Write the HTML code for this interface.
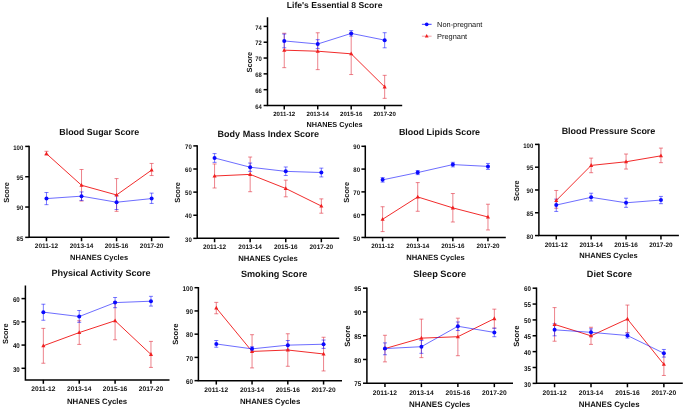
<!DOCTYPE html>
<html><head><meta charset="utf-8"><style>
html,body{margin:0;padding:0;background:#fff;}
svg{display:block;will-change:transform;}
text{font-family:"Liberation Sans",sans-serif;fill:#111;font-weight:bold;text-rendering:geometricPrecision;}
</style></head><body>
<svg width="685" height="411" viewBox="0 0 685 411">
<rect width="685" height="411" fill="#fff"/>
<path d="M267.50 17.25V105.50H402.20" fill="none" stroke="#000" stroke-width="1.5"/>
<path d="M263.60 105.50H267.50" stroke="#000" stroke-width="1.5"/>
<text transform="translate(261.90 108.62) scale(1 1.1)" text-anchor="end" font-size="5.9">64</text>
<path d="M263.60 89.68H267.50" stroke="#000" stroke-width="1.5"/>
<text transform="translate(261.90 92.80) scale(1 1.1)" text-anchor="end" font-size="5.9">66</text>
<path d="M263.60 73.86H267.50" stroke="#000" stroke-width="1.5"/>
<text transform="translate(261.90 76.98) scale(1 1.1)" text-anchor="end" font-size="5.9">68</text>
<path d="M263.60 58.04H267.50" stroke="#000" stroke-width="1.5"/>
<text transform="translate(261.90 61.16) scale(1 1.1)" text-anchor="end" font-size="5.9">70</text>
<path d="M263.60 42.22H267.50" stroke="#000" stroke-width="1.5"/>
<text transform="translate(261.90 45.34) scale(1 1.1)" text-anchor="end" font-size="5.9">72</text>
<path d="M263.60 26.40H267.50" stroke="#000" stroke-width="1.5"/>
<text transform="translate(261.90 29.52) scale(1 1.1)" text-anchor="end" font-size="5.9">74</text>
<path d="M284.25 105.50V109.40" stroke="#000" stroke-width="1.5"/>
<text x="284.25" y="115.90" text-anchor="middle" font-size="6.1">2011-12</text>
<path d="M317.72 105.50V109.40" stroke="#000" stroke-width="1.5"/>
<text x="317.72" y="115.90" text-anchor="middle" font-size="6.1">2013-14</text>
<path d="M351.19 105.50V109.40" stroke="#000" stroke-width="1.5"/>
<text x="351.19" y="115.90" text-anchor="middle" font-size="6.1">2015-16</text>
<path d="M384.66 105.50V109.40" stroke="#000" stroke-width="1.5"/>
<text x="384.66" y="115.90" text-anchor="middle" font-size="6.1">2017-20</text>
<text x="334.60" y="8.10" text-anchor="middle" font-size="8.6">Life&#39;s Essential 8 Score</text>
<text x="334.60" y="126.90" text-anchor="middle" font-size="7.25">NHANES Cycles</text>
<text transform="translate(251.70 62.10) rotate(-90)" text-anchor="middle" font-size="7.45">Score</text>
<path d="M284.25 33.25V67.66M282.25 33.25H286.25M282.25 67.66H286.25" stroke="#e23a48" stroke-width="0.7" fill="none" opacity="0.9"/>
<path d="M317.72 32.78V69.64M315.72 32.78H319.72M315.72 69.64H319.72" stroke="#e23a48" stroke-width="0.7" fill="none" opacity="0.9"/>
<path d="M351.19 33.25V74.54M349.19 33.25H353.19M349.19 74.54H353.19" stroke="#e23a48" stroke-width="0.7" fill="none" opacity="0.9"/>
<path d="M384.66 75.33V98.35M382.66 75.33H386.66M382.66 98.35H386.66" stroke="#e23a48" stroke-width="0.7" fill="none" opacity="0.9"/>
<path d="M284.25 34.04V47.81M282.25 34.04H286.25M282.25 47.81H286.25" stroke="#0a0aff" stroke-width="0.6" fill="none" opacity="0.9"/>
<path d="M317.72 39.66V48.60M315.72 39.66H319.72M315.72 48.60H319.72" stroke="#0a0aff" stroke-width="0.6" fill="none" opacity="0.9"/>
<path d="M351.19 30.64V36.10M349.19 30.64H353.19M349.19 36.10H353.19" stroke="#0a0aff" stroke-width="0.6" fill="none" opacity="0.9"/>
<path d="M384.66 32.70V47.81M382.66 32.70H386.66M382.66 47.81H386.66" stroke="#0a0aff" stroke-width="0.6" fill="none" opacity="0.9"/>
<path d="M284.25 50.18 L317.72 51.21 L351.19 53.82 L384.66 86.88" stroke="#f02020" stroke-width="0.95" fill="none"/>
<path d="M284.25 47.88L286.30 51.68L282.20 51.68Z" fill="#f02020"/>
<path d="M317.72 48.91L319.77 52.71L315.67 52.71Z" fill="#f02020"/>
<path d="M351.19 51.52L353.24 55.32L349.14 55.32Z" fill="#f02020"/>
<path d="M384.66 84.58L386.71 88.38L382.61 88.38Z" fill="#f02020"/>
<path d="M284.25 40.93 L317.72 44.01 L351.19 33.41 L384.66 40.13" stroke="#0a0aff" stroke-width="0.6" fill="none"/>
<circle cx="284.25" cy="40.93" r="2.00" fill="#0a0aff"/>
<circle cx="317.72" cy="44.01" r="2.00" fill="#0a0aff"/>
<circle cx="351.19" cy="33.41" r="2.00" fill="#0a0aff"/>
<circle cx="384.66" cy="40.13" r="2.00" fill="#0a0aff"/>
<path d="M29.10 145.65V237.35H169.50" fill="none" stroke="#000" stroke-width="1.5"/>
<path d="M25.20 237.35H29.10" stroke="#000" stroke-width="1.5"/>
<text transform="translate(23.30 240.51) scale(1 1.1)" text-anchor="end" font-size="6.0">85</text>
<path d="M25.20 207.03H29.10" stroke="#000" stroke-width="1.5"/>
<text transform="translate(23.30 210.20) scale(1 1.1)" text-anchor="end" font-size="6.0">90</text>
<path d="M25.20 176.72H29.10" stroke="#000" stroke-width="1.5"/>
<text transform="translate(23.30 179.88) scale(1 1.1)" text-anchor="end" font-size="6.0">95</text>
<path d="M25.20 146.40H29.10" stroke="#000" stroke-width="1.5"/>
<text transform="translate(23.30 149.56) scale(1 1.1)" text-anchor="end" font-size="6.0">100</text>
<path d="M46.47 237.35V241.25" stroke="#000" stroke-width="1.5"/>
<text x="46.47" y="248.20" text-anchor="middle" font-size="6.45">2011-12</text>
<path d="M81.52 237.35V241.25" stroke="#000" stroke-width="1.5"/>
<text x="81.52" y="248.20" text-anchor="middle" font-size="6.45">2013-14</text>
<path d="M116.57 237.35V241.25" stroke="#000" stroke-width="1.5"/>
<text x="116.57" y="248.20" text-anchor="middle" font-size="6.45">2015-16</text>
<path d="M151.62 237.35V241.25" stroke="#000" stroke-width="1.5"/>
<text x="151.62" y="248.20" text-anchor="middle" font-size="6.45">2017-20</text>
<text x="99.20" y="135.40" text-anchor="middle" font-size="8.9">Blood Sugar Score</text>
<text x="99.10" y="259.90" text-anchor="middle" font-size="7.5">NHANES Cycles</text>
<text transform="translate(9.10 192.40) rotate(-90)" text-anchor="middle" font-size="7.45">Score</text>
<path d="M46.47 151.30V154.94M44.47 151.30H48.47M44.47 154.94H48.47" stroke="#e23a48" stroke-width="0.7" fill="none" opacity="0.9"/>
<path d="M81.52 169.49V201.02M79.52 169.49H83.52M79.52 201.02H83.52" stroke="#e23a48" stroke-width="0.7" fill="none" opacity="0.9"/>
<path d="M116.57 178.59V211.33M114.57 178.59H118.57M114.57 211.33H118.57" stroke="#e23a48" stroke-width="0.7" fill="none" opacity="0.9"/>
<path d="M151.62 163.43V175.55M149.62 163.43H153.62M149.62 175.55H153.62" stroke="#e23a48" stroke-width="0.7" fill="none" opacity="0.9"/>
<path d="M46.47 192.53V204.66M44.47 192.53H48.47M44.47 204.66H48.47" stroke="#0a0aff" stroke-width="0.6" fill="none" opacity="0.9"/>
<path d="M81.52 191.93V200.41M79.52 191.93H83.52M79.52 200.41H83.52" stroke="#0a0aff" stroke-width="0.6" fill="none" opacity="0.9"/>
<path d="M116.57 195.56V209.51M114.57 195.56H118.57M114.57 209.51H118.57" stroke="#0a0aff" stroke-width="0.6" fill="none" opacity="0.9"/>
<path d="M151.62 193.14V203.45M149.62 193.14H153.62M149.62 203.45H153.62" stroke="#0a0aff" stroke-width="0.6" fill="none" opacity="0.9"/>
<path d="M46.47 153.73 L81.52 185.26 L116.57 194.96 L151.62 170.10" stroke="#f02020" stroke-width="0.95" fill="none"/>
<path d="M46.47 151.43L48.52 155.23L44.42 155.23Z" fill="#f02020"/>
<path d="M81.52 182.96L83.57 186.76L79.47 186.76Z" fill="#f02020"/>
<path d="M116.57 192.66L118.62 196.46L114.52 196.46Z" fill="#f02020"/>
<path d="M151.62 167.80L153.67 171.60L149.57 171.60Z" fill="#f02020"/>
<path d="M46.47 198.59 L81.52 196.17 L116.57 202.23 L151.62 198.59" stroke="#0a0aff" stroke-width="0.6" fill="none"/>
<circle cx="46.47" cy="198.59" r="2.00" fill="#0a0aff"/>
<circle cx="81.52" cy="196.17" r="2.00" fill="#0a0aff"/>
<circle cx="116.57" cy="202.23" r="2.00" fill="#0a0aff"/>
<circle cx="151.62" cy="198.59" r="2.00" fill="#0a0aff"/>
<path d="M197.20 145.15V238.35H339.20" fill="none" stroke="#000" stroke-width="1.5"/>
<path d="M193.30 238.35H197.20" stroke="#000" stroke-width="1.5"/>
<text transform="translate(191.80 241.51) scale(1 1.1)" text-anchor="end" font-size="6.0">30</text>
<path d="M193.30 215.24H197.20" stroke="#000" stroke-width="1.5"/>
<text transform="translate(191.80 218.40) scale(1 1.1)" text-anchor="end" font-size="6.0">40</text>
<path d="M193.30 192.12H197.20" stroke="#000" stroke-width="1.5"/>
<text transform="translate(191.80 195.29) scale(1 1.1)" text-anchor="end" font-size="6.0">50</text>
<path d="M193.30 169.01H197.20" stroke="#000" stroke-width="1.5"/>
<text transform="translate(191.80 172.18) scale(1 1.1)" text-anchor="end" font-size="6.0">60</text>
<path d="M193.30 145.90H197.20" stroke="#000" stroke-width="1.5"/>
<text transform="translate(191.80 149.06) scale(1 1.1)" text-anchor="end" font-size="6.0">70</text>
<path d="M214.57 238.35V242.25" stroke="#000" stroke-width="1.5"/>
<text x="214.57" y="249.10" text-anchor="middle" font-size="6.45">2011-12</text>
<path d="M250.16 238.35V242.25" stroke="#000" stroke-width="1.5"/>
<text x="250.16" y="249.10" text-anchor="middle" font-size="6.45">2013-14</text>
<path d="M285.75 238.35V242.25" stroke="#000" stroke-width="1.5"/>
<text x="285.75" y="249.10" text-anchor="middle" font-size="6.45">2015-16</text>
<path d="M321.34 238.35V242.25" stroke="#000" stroke-width="1.5"/>
<text x="321.34" y="249.10" text-anchor="middle" font-size="6.45">2017-20</text>
<text x="268.30" y="136.80" text-anchor="middle" font-size="9.05">Body Mass Index Score</text>
<text x="268.00" y="261.30" text-anchor="middle" font-size="7.72">NHANES Cycles</text>
<text transform="translate(180.30 192.40) rotate(-90)" text-anchor="middle" font-size="7.45">Score</text>
<path d="M214.57 163.98V188.01M212.57 163.98H216.57M212.57 188.01H216.57" stroke="#e23a48" stroke-width="0.7" fill="none" opacity="0.9"/>
<path d="M250.16 157.04V191.71M248.16 157.04H252.16M248.16 191.71H252.16" stroke="#e23a48" stroke-width="0.7" fill="none" opacity="0.9"/>
<path d="M285.75 180.16V196.80M283.75 180.16H287.75M283.75 196.80H287.75" stroke="#e23a48" stroke-width="0.7" fill="none" opacity="0.9"/>
<path d="M321.34 198.88V213.21M319.34 198.88H323.34M319.34 213.21H323.34" stroke="#e23a48" stroke-width="0.7" fill="none" opacity="0.9"/>
<path d="M214.57 153.58V162.36M212.57 153.58H216.57M212.57 162.36H216.57" stroke="#0a0aff" stroke-width="0.6" fill="none" opacity="0.9"/>
<path d="M250.16 163.05V171.37M248.16 163.05H252.16M248.16 171.37H252.16" stroke="#0a0aff" stroke-width="0.6" fill="none" opacity="0.9"/>
<path d="M285.75 166.98V175.53M283.75 166.98H287.75M283.75 175.53H287.75" stroke="#0a0aff" stroke-width="0.6" fill="none" opacity="0.9"/>
<path d="M321.34 168.14V176.92M319.34 168.14H323.34M319.34 176.92H323.34" stroke="#0a0aff" stroke-width="0.6" fill="none" opacity="0.9"/>
<path d="M214.57 176.00 L250.16 174.38 L285.75 188.48 L321.34 206.04" stroke="#f02020" stroke-width="0.95" fill="none"/>
<path d="M214.57 173.70L216.62 177.50L212.52 177.50Z" fill="#f02020"/>
<path d="M250.16 172.08L252.21 175.88L248.11 175.88Z" fill="#f02020"/>
<path d="M285.75 186.18L287.80 189.98L283.70 189.98Z" fill="#f02020"/>
<path d="M321.34 203.74L323.39 207.54L319.29 207.54Z" fill="#f02020"/>
<path d="M214.57 157.97 L250.16 167.21 L285.75 171.37 L321.34 172.53" stroke="#0a0aff" stroke-width="0.6" fill="none"/>
<circle cx="214.57" cy="157.97" r="2.00" fill="#0a0aff"/>
<circle cx="250.16" cy="167.21" r="2.00" fill="#0a0aff"/>
<circle cx="285.75" cy="171.37" r="2.00" fill="#0a0aff"/>
<circle cx="321.34" cy="172.53" r="2.00" fill="#0a0aff"/>
<path d="M365.30 145.55V237.45H505.80" fill="none" stroke="#000" stroke-width="1.5"/>
<path d="M361.40 237.45H365.30" stroke="#000" stroke-width="1.5"/>
<text transform="translate(360.00 240.61) scale(1 1.1)" text-anchor="end" font-size="6.0">50</text>
<path d="M361.40 214.66H365.30" stroke="#000" stroke-width="1.5"/>
<text transform="translate(360.00 217.83) scale(1 1.1)" text-anchor="end" font-size="6.0">60</text>
<path d="M361.40 191.88H365.30" stroke="#000" stroke-width="1.5"/>
<text transform="translate(360.00 195.04) scale(1 1.1)" text-anchor="end" font-size="6.0">70</text>
<path d="M361.40 169.09H365.30" stroke="#000" stroke-width="1.5"/>
<text transform="translate(360.00 172.25) scale(1 1.1)" text-anchor="end" font-size="6.0">80</text>
<path d="M361.40 146.30H365.30" stroke="#000" stroke-width="1.5"/>
<text transform="translate(360.00 149.46) scale(1 1.1)" text-anchor="end" font-size="6.0">90</text>
<path d="M382.61 237.45V241.35" stroke="#000" stroke-width="1.5"/>
<text x="382.61" y="248.30" text-anchor="middle" font-size="6.3">2011-12</text>
<path d="M417.73 237.45V241.35" stroke="#000" stroke-width="1.5"/>
<text x="417.73" y="248.30" text-anchor="middle" font-size="6.3">2013-14</text>
<path d="M452.85 237.45V241.35" stroke="#000" stroke-width="1.5"/>
<text x="452.85" y="248.30" text-anchor="middle" font-size="6.3">2015-16</text>
<path d="M487.97 237.45V241.35" stroke="#000" stroke-width="1.5"/>
<text x="487.97" y="248.30" text-anchor="middle" font-size="6.3">2017-20</text>
<text x="439.50" y="135.20" text-anchor="middle" font-size="8.91">Blood Lipids Score</text>
<text x="435.50" y="260.40" text-anchor="middle" font-size="7.6">NHANES Cycles</text>
<text transform="translate(349.20 192.30) rotate(-90)" text-anchor="middle" font-size="7.45">Score</text>
<path d="M382.61 206.74V231.58M380.61 206.74H384.61M380.61 231.58H384.61" stroke="#e23a48" stroke-width="0.7" fill="none" opacity="0.9"/>
<path d="M417.73 182.58V211.29M415.73 182.58H419.73M415.73 211.29H419.73" stroke="#e23a48" stroke-width="0.7" fill="none" opacity="0.9"/>
<path d="M452.85 193.52V222.00M450.85 193.52H454.85M450.85 222.00H454.85" stroke="#e23a48" stroke-width="0.7" fill="none" opacity="0.9"/>
<path d="M487.97 204.23V229.98M485.97 204.23H489.97M485.97 229.98H489.97" stroke="#e23a48" stroke-width="0.7" fill="none" opacity="0.9"/>
<path d="M382.61 177.57V182.13M380.61 177.57H384.61M380.61 182.13H384.61" stroke="#0a0aff" stroke-width="0.6" fill="none" opacity="0.9"/>
<path d="M417.73 170.50V174.61M415.73 170.50H419.73M415.73 174.61H419.73" stroke="#0a0aff" stroke-width="0.6" fill="none" opacity="0.9"/>
<path d="M452.85 162.30V166.86M450.85 162.30H454.85M450.85 166.86H454.85" stroke="#0a0aff" stroke-width="0.6" fill="none" opacity="0.9"/>
<path d="M487.97 163.44V169.37M485.97 163.44H489.97M485.97 169.37H489.97" stroke="#0a0aff" stroke-width="0.6" fill="none" opacity="0.9"/>
<path d="M382.61 219.27 L417.73 196.94 L452.85 207.88 L487.97 216.99" stroke="#f02020" stroke-width="0.95" fill="none"/>
<path d="M382.61 216.97L384.66 220.77L380.56 220.77Z" fill="#f02020"/>
<path d="M417.73 194.64L419.78 198.44L415.68 198.44Z" fill="#f02020"/>
<path d="M452.85 205.58L454.90 209.38L450.80 209.38Z" fill="#f02020"/>
<path d="M487.97 214.69L490.02 218.49L485.92 218.49Z" fill="#f02020"/>
<path d="M382.61 179.85 L417.73 172.56 L452.85 164.58 L487.97 166.40" stroke="#0a0aff" stroke-width="0.6" fill="none"/>
<circle cx="382.61" cy="179.85" r="2.00" fill="#0a0aff"/>
<circle cx="417.73" cy="172.56" r="2.00" fill="#0a0aff"/>
<circle cx="452.85" cy="164.58" r="2.00" fill="#0a0aff"/>
<circle cx="487.97" cy="166.40" r="2.00" fill="#0a0aff"/>
<path d="M538.90 143.65V235.55H678.90" fill="none" stroke="#000" stroke-width="1.5"/>
<path d="M535.00 235.55H538.90" stroke="#000" stroke-width="1.5"/>
<text transform="translate(533.30 238.71) scale(1 1.1)" text-anchor="end" font-size="6.0">80</text>
<path d="M535.00 212.76H538.90" stroke="#000" stroke-width="1.5"/>
<text transform="translate(533.30 215.93) scale(1 1.1)" text-anchor="end" font-size="6.0">85</text>
<path d="M535.00 189.98H538.90" stroke="#000" stroke-width="1.5"/>
<text transform="translate(533.30 193.14) scale(1 1.1)" text-anchor="end" font-size="6.0">90</text>
<path d="M535.00 167.19H538.90" stroke="#000" stroke-width="1.5"/>
<text transform="translate(533.30 170.35) scale(1 1.1)" text-anchor="end" font-size="6.0">95</text>
<path d="M535.00 144.40H538.90" stroke="#000" stroke-width="1.5"/>
<text transform="translate(533.30 147.56) scale(1 1.1)" text-anchor="end" font-size="6.0">100</text>
<path d="M556.25 235.55V239.45" stroke="#000" stroke-width="1.5"/>
<text x="556.25" y="246.50" text-anchor="middle" font-size="6.4">2011-12</text>
<path d="M591.15 235.55V239.45" stroke="#000" stroke-width="1.5"/>
<text x="591.15" y="246.50" text-anchor="middle" font-size="6.4">2013-14</text>
<path d="M626.05 235.55V239.45" stroke="#000" stroke-width="1.5"/>
<text x="626.05" y="246.50" text-anchor="middle" font-size="6.4">2015-16</text>
<path d="M660.95 235.55V239.45" stroke="#000" stroke-width="1.5"/>
<text x="660.95" y="246.50" text-anchor="middle" font-size="6.4">2017-20</text>
<text x="608.50" y="134.40" text-anchor="middle" font-size="8.97">Blood Pressure Score</text>
<text x="608.50" y="258.10" text-anchor="middle" font-size="7.56">NHANES Cycles</text>
<text transform="translate(519.00 190.60) rotate(-90)" text-anchor="middle" font-size="7.45">Score</text>
<path d="M556.25 190.48V208.26M554.25 190.48H558.25M554.25 208.26H558.25" stroke="#e23a48" stroke-width="0.7" fill="none" opacity="0.9"/>
<path d="M591.15 158.12V172.71M589.15 158.12H593.15M589.15 172.71H593.15" stroke="#e23a48" stroke-width="0.7" fill="none" opacity="0.9"/>
<path d="M626.05 154.02V169.06M624.05 154.02H628.05M624.05 169.06H628.05" stroke="#e23a48" stroke-width="0.7" fill="none" opacity="0.9"/>
<path d="M660.95 148.10V162.68M658.95 148.10H662.95M658.95 162.68H662.95" stroke="#e23a48" stroke-width="0.7" fill="none" opacity="0.9"/>
<path d="M556.25 199.14V211.45M554.25 199.14H558.25M554.25 211.45H558.25" stroke="#0a0aff" stroke-width="0.6" fill="none" opacity="0.9"/>
<path d="M591.15 193.22V200.96M589.15 193.22H593.15M589.15 200.96H593.15" stroke="#0a0aff" stroke-width="0.6" fill="none" opacity="0.9"/>
<path d="M626.05 198.23V207.34M624.05 198.23H628.05M624.05 207.34H628.05" stroke="#0a0aff" stroke-width="0.6" fill="none" opacity="0.9"/>
<path d="M660.95 196.41V203.70M658.95 196.41H662.95M658.95 203.70H662.95" stroke="#0a0aff" stroke-width="0.6" fill="none" opacity="0.9"/>
<path d="M556.25 200.51 L591.15 165.41 L626.05 161.77 L660.95 155.84" stroke="#f02020" stroke-width="0.95" fill="none"/>
<path d="M556.25 198.21L558.30 202.01L554.20 202.01Z" fill="#f02020"/>
<path d="M591.15 163.11L593.20 166.91L589.10 166.91Z" fill="#f02020"/>
<path d="M626.05 159.47L628.10 163.27L624.00 163.27Z" fill="#f02020"/>
<path d="M660.95 153.54L663.00 157.34L658.90 157.34Z" fill="#f02020"/>
<path d="M556.25 205.06 L591.15 197.32 L626.05 202.79 L660.95 200.05" stroke="#0a0aff" stroke-width="0.6" fill="none"/>
<circle cx="556.25" cy="205.06" r="2.00" fill="#0a0aff"/>
<circle cx="591.15" cy="197.32" r="2.00" fill="#0a0aff"/>
<circle cx="626.05" cy="202.79" r="2.00" fill="#0a0aff"/>
<circle cx="660.95" cy="200.05" r="2.00" fill="#0a0aff"/>
<path d="M25.40 285.55V379.90H169.50" fill="none" stroke="#000" stroke-width="1.5"/>
<path d="M21.50 368.30H25.40" stroke="#000" stroke-width="1.5"/>
<text transform="translate(19.80 371.54) scale(1 1.1)" text-anchor="end" font-size="6.2">30</text>
<path d="M21.50 345.07H25.40" stroke="#000" stroke-width="1.5"/>
<text transform="translate(19.80 348.31) scale(1 1.1)" text-anchor="end" font-size="6.2">40</text>
<path d="M21.50 321.83H25.40" stroke="#000" stroke-width="1.5"/>
<text transform="translate(19.80 325.07) scale(1 1.1)" text-anchor="end" font-size="6.2">50</text>
<path d="M21.50 298.60H25.40" stroke="#000" stroke-width="1.5"/>
<text transform="translate(19.80 301.84) scale(1 1.1)" text-anchor="end" font-size="6.2">60</text>
<path d="M43.35 379.90V383.80" stroke="#000" stroke-width="1.5"/>
<text x="43.35" y="391.30" text-anchor="middle" font-size="6.67">2011-12</text>
<path d="M79.22 379.90V383.80" stroke="#000" stroke-width="1.5"/>
<text x="79.22" y="391.30" text-anchor="middle" font-size="6.67">2013-14</text>
<path d="M115.09 379.90V383.80" stroke="#000" stroke-width="1.5"/>
<text x="115.09" y="391.30" text-anchor="middle" font-size="6.67">2015-16</text>
<path d="M150.96 379.90V383.80" stroke="#000" stroke-width="1.5"/>
<text x="150.96" y="391.30" text-anchor="middle" font-size="6.67">2017-20</text>
<text x="101.05" y="276.00" text-anchor="middle" font-size="9.05">Physical Activity Score</text>
<text x="97.05" y="403.90" text-anchor="middle" font-size="7.8">NHANES Cycles</text>
<text transform="translate(8.40 333.70) rotate(-90)" text-anchor="middle" font-size="7.45">Score</text>
<path d="M43.35 328.39V363.24M41.35 328.39H45.35M41.35 363.24H45.35" stroke="#e23a48" stroke-width="0.7" fill="none" opacity="0.9"/>
<path d="M79.22 320.72V344.42M77.22 320.72H81.22M77.22 344.42H81.22" stroke="#e23a48" stroke-width="0.7" fill="none" opacity="0.9"/>
<path d="M115.09 301.67V339.77M113.09 301.67H117.09M113.09 339.77H117.09" stroke="#e23a48" stroke-width="0.7" fill="none" opacity="0.9"/>
<path d="M150.96 341.40V367.42M148.96 341.40H152.96M148.96 367.42H152.96" stroke="#e23a48" stroke-width="0.7" fill="none" opacity="0.9"/>
<path d="M43.35 304.23V320.26M41.35 304.23H45.35M41.35 320.26H45.35" stroke="#0a0aff" stroke-width="0.6" fill="none" opacity="0.9"/>
<path d="M79.22 310.50V322.35M77.22 310.50H81.22M77.22 322.35H81.22" stroke="#0a0aff" stroke-width="0.6" fill="none" opacity="0.9"/>
<path d="M115.09 297.49V307.71M113.09 297.49H117.09M113.09 307.71H117.09" stroke="#0a0aff" stroke-width="0.6" fill="none" opacity="0.9"/>
<path d="M150.96 296.33V306.08M148.96 296.33H152.96M148.96 306.08H152.96" stroke="#0a0aff" stroke-width="0.6" fill="none" opacity="0.9"/>
<path d="M43.35 345.81 L79.22 332.57 L115.09 320.72 L150.96 354.41" stroke="#f02020" stroke-width="0.95" fill="none"/>
<path d="M43.35 343.51L45.40 347.31L41.30 347.31Z" fill="#f02020"/>
<path d="M79.22 330.27L81.27 334.07L77.17 334.07Z" fill="#f02020"/>
<path d="M115.09 318.42L117.14 322.22L113.04 322.22Z" fill="#f02020"/>
<path d="M150.96 352.11L153.01 355.91L148.91 355.91Z" fill="#f02020"/>
<path d="M43.35 312.13 L79.22 316.54 L115.09 302.60 L150.96 301.21" stroke="#0a0aff" stroke-width="0.6" fill="none"/>
<circle cx="43.35" cy="312.13" r="2.00" fill="#0a0aff"/>
<circle cx="79.22" cy="316.54" r="2.00" fill="#0a0aff"/>
<circle cx="115.09" cy="302.60" r="2.00" fill="#0a0aff"/>
<circle cx="150.96" cy="301.21" r="2.00" fill="#0a0aff"/>
<path d="M198.40 286.95V380.65H342.00" fill="none" stroke="#000" stroke-width="1.5"/>
<path d="M194.50 380.65H198.40" stroke="#000" stroke-width="1.5"/>
<text transform="translate(193.10 383.93) scale(1 1.1)" text-anchor="end" font-size="6.3">60</text>
<path d="M194.50 357.41H198.40" stroke="#000" stroke-width="1.5"/>
<text transform="translate(193.10 360.69) scale(1 1.1)" text-anchor="end" font-size="6.3">70</text>
<path d="M194.50 334.17H198.40" stroke="#000" stroke-width="1.5"/>
<text transform="translate(193.10 337.46) scale(1 1.1)" text-anchor="end" font-size="6.3">80</text>
<path d="M194.50 310.94H198.40" stroke="#000" stroke-width="1.5"/>
<text transform="translate(193.10 314.22) scale(1 1.1)" text-anchor="end" font-size="6.3">90</text>
<path d="M194.50 287.70H198.40" stroke="#000" stroke-width="1.5"/>
<text transform="translate(193.10 290.98) scale(1 1.1)" text-anchor="end" font-size="6.3">100</text>
<path d="M216.29 380.65V384.55" stroke="#000" stroke-width="1.5"/>
<text x="216.29" y="391.80" text-anchor="middle" font-size="6.6">2011-12</text>
<path d="M252.05 380.65V384.55" stroke="#000" stroke-width="1.5"/>
<text x="252.05" y="391.80" text-anchor="middle" font-size="6.6">2013-14</text>
<path d="M287.81 380.65V384.55" stroke="#000" stroke-width="1.5"/>
<text x="287.81" y="391.80" text-anchor="middle" font-size="6.6">2015-16</text>
<path d="M323.57 380.65V384.55" stroke="#000" stroke-width="1.5"/>
<text x="323.57" y="391.80" text-anchor="middle" font-size="6.6">2017-20</text>
<text x="274.10" y="276.60" text-anchor="middle" font-size="9.12">Smoking Score</text>
<text x="270.10" y="403.80" text-anchor="middle" font-size="7.82">NHANES Cycles</text>
<text transform="translate(177.90 334.20) rotate(-90)" text-anchor="middle" font-size="7.6">Score</text>
<path d="M216.29 302.39V313.78M214.29 302.39H218.29M214.29 313.78H218.29" stroke="#e23a48" stroke-width="0.7" fill="none" opacity="0.9"/>
<path d="M252.05 334.69V367.92M250.05 334.69H254.05M250.05 367.92H254.05" stroke="#e23a48" stroke-width="0.7" fill="none" opacity="0.9"/>
<path d="M287.81 333.76V366.29M285.81 333.76H289.81M285.81 366.29H289.81" stroke="#e23a48" stroke-width="0.7" fill="none" opacity="0.9"/>
<path d="M323.57 337.25V370.94M321.57 337.25H325.57M321.57 370.94H325.57" stroke="#e23a48" stroke-width="0.7" fill="none" opacity="0.9"/>
<path d="M216.29 340.50V347.24M214.29 340.50H218.29M214.29 347.24H218.29" stroke="#0a0aff" stroke-width="0.6" fill="none" opacity="0.9"/>
<path d="M252.05 346.77V350.96M250.05 346.77H254.05M250.05 350.96H254.05" stroke="#0a0aff" stroke-width="0.6" fill="none" opacity="0.9"/>
<path d="M287.81 340.50V349.79M285.81 340.50H289.81M285.81 349.79H289.81" stroke="#0a0aff" stroke-width="0.6" fill="none" opacity="0.9"/>
<path d="M323.57 340.03V348.40M321.57 340.03H325.57M321.57 348.40H325.57" stroke="#0a0aff" stroke-width="0.6" fill="none" opacity="0.9"/>
<path d="M216.29 307.97 L252.05 351.42 L287.81 350.03 L323.57 353.98" stroke="#f02020" stroke-width="0.95" fill="none"/>
<path d="M216.29 305.67L218.34 309.47L214.24 309.47Z" fill="#f02020"/>
<path d="M252.05 349.12L254.10 352.92L250.00 352.92Z" fill="#f02020"/>
<path d="M287.81 347.73L289.86 351.53L285.76 351.53Z" fill="#f02020"/>
<path d="M323.57 351.68L325.62 355.48L321.52 355.48Z" fill="#f02020"/>
<path d="M216.29 343.98 L252.05 348.86 L287.81 345.15 L323.57 344.22" stroke="#0a0aff" stroke-width="0.6" fill="none"/>
<circle cx="216.29" cy="343.98" r="2.00" fill="#0a0aff"/>
<circle cx="252.05" cy="348.86" r="2.00" fill="#0a0aff"/>
<circle cx="287.81" cy="345.15" r="2.00" fill="#0a0aff"/>
<circle cx="323.57" cy="344.22" r="2.00" fill="#0a0aff"/>
<path d="M366.90 287.45V383.22H513.00" fill="none" stroke="#000" stroke-width="1.5"/>
<path d="M363.00 383.22H366.90" stroke="#000" stroke-width="1.5"/>
<text transform="translate(361.10 386.46) scale(1 1.1)" text-anchor="end" font-size="6.2">75</text>
<path d="M363.00 359.47H366.90" stroke="#000" stroke-width="1.5"/>
<text transform="translate(361.10 362.71) scale(1 1.1)" text-anchor="end" font-size="6.2">80</text>
<path d="M363.00 335.71H366.90" stroke="#000" stroke-width="1.5"/>
<text transform="translate(361.10 338.95) scale(1 1.1)" text-anchor="end" font-size="6.2">85</text>
<path d="M363.00 311.95H366.90" stroke="#000" stroke-width="1.5"/>
<text transform="translate(361.10 315.20) scale(1 1.1)" text-anchor="end" font-size="6.2">90</text>
<path d="M363.00 288.20H366.90" stroke="#000" stroke-width="1.5"/>
<text transform="translate(361.10 291.44) scale(1 1.1)" text-anchor="end" font-size="6.2">95</text>
<path d="M384.96 383.22V387.12" stroke="#000" stroke-width="1.5"/>
<text x="384.96" y="394.50" text-anchor="middle" font-size="6.7">2011-12</text>
<path d="M421.42 383.22V387.12" stroke="#000" stroke-width="1.5"/>
<text x="421.42" y="394.50" text-anchor="middle" font-size="6.7">2013-14</text>
<path d="M457.88 383.22V387.12" stroke="#000" stroke-width="1.5"/>
<text x="457.88" y="394.50" text-anchor="middle" font-size="6.7">2015-16</text>
<path d="M494.34 383.22V387.12" stroke="#000" stroke-width="1.5"/>
<text x="494.34" y="394.50" text-anchor="middle" font-size="6.7">2017-20</text>
<text x="439.60" y="277.00" text-anchor="middle" font-size="9.24">Sleep Score</text>
<text x="439.60" y="407.10" text-anchor="middle" font-size="7.95">NHANES Cycles</text>
<text transform="translate(349.80 336.20) rotate(-90)" text-anchor="middle" font-size="7.6">Score</text>
<path d="M384.96 335.28V361.89M382.96 335.28H386.96M382.96 361.89H386.96" stroke="#e23a48" stroke-width="0.7" fill="none" opacity="0.9"/>
<path d="M421.42 319.13V357.61M419.42 319.13H423.42M419.42 357.61H423.42" stroke="#e23a48" stroke-width="0.7" fill="none" opacity="0.9"/>
<path d="M457.88 318.18V355.71M455.88 318.18H459.88M455.88 355.71H459.88" stroke="#e23a48" stroke-width="0.7" fill="none" opacity="0.9"/>
<path d="M494.34 309.15V328.16M492.34 309.15H496.34M492.34 328.16H496.34" stroke="#e23a48" stroke-width="0.7" fill="none" opacity="0.9"/>
<path d="M384.96 342.89V354.76M382.96 342.89H386.96M382.96 354.76H386.96" stroke="#0a0aff" stroke-width="0.6" fill="none" opacity="0.9"/>
<path d="M421.42 340.51V353.34M419.42 340.51H423.42M419.42 353.34H423.42" stroke="#0a0aff" stroke-width="0.6" fill="none" opacity="0.9"/>
<path d="M457.88 321.98V330.53M455.88 321.98H459.88M455.88 330.53H459.88" stroke="#0a0aff" stroke-width="0.6" fill="none" opacity="0.9"/>
<path d="M494.34 328.16V336.71M492.34 328.16H496.34M492.34 336.71H496.34" stroke="#0a0aff" stroke-width="0.6" fill="none" opacity="0.9"/>
<path d="M384.96 348.59 L421.42 338.14 L457.88 336.71 L494.34 318.66" stroke="#f02020" stroke-width="0.95" fill="none"/>
<path d="M384.96 346.29L387.01 350.09L382.91 350.09Z" fill="#f02020"/>
<path d="M421.42 335.84L423.47 339.64L419.37 339.64Z" fill="#f02020"/>
<path d="M457.88 334.41L459.93 338.21L455.83 338.21Z" fill="#f02020"/>
<path d="M494.34 316.36L496.39 320.16L492.29 320.16Z" fill="#f02020"/>
<path d="M384.96 348.59 L421.42 346.69 L457.88 326.26 L494.34 332.43" stroke="#0a0aff" stroke-width="0.6" fill="none"/>
<circle cx="384.96" cy="348.59" r="2.00" fill="#0a0aff"/>
<circle cx="421.42" cy="346.69" r="2.00" fill="#0a0aff"/>
<circle cx="457.88" cy="326.26" r="2.00" fill="#0a0aff"/>
<circle cx="494.34" cy="332.43" r="2.00" fill="#0a0aff"/>
<path d="M536.50 287.45V383.35H682.80" fill="none" stroke="#000" stroke-width="1.5"/>
<path d="M532.60 383.35H536.50" stroke="#000" stroke-width="1.5"/>
<text transform="translate(530.90 386.59) scale(1 1.1)" text-anchor="end" font-size="6.2">30</text>
<path d="M532.60 367.49H536.50" stroke="#000" stroke-width="1.5"/>
<text transform="translate(530.90 370.73) scale(1 1.1)" text-anchor="end" font-size="6.2">35</text>
<path d="M532.60 351.63H536.50" stroke="#000" stroke-width="1.5"/>
<text transform="translate(530.90 354.87) scale(1 1.1)" text-anchor="end" font-size="6.2">40</text>
<path d="M532.60 335.77H536.50" stroke="#000" stroke-width="1.5"/>
<text transform="translate(530.90 339.02) scale(1 1.1)" text-anchor="end" font-size="6.2">45</text>
<path d="M532.60 319.92H536.50" stroke="#000" stroke-width="1.5"/>
<text transform="translate(530.90 323.16) scale(1 1.1)" text-anchor="end" font-size="6.2">50</text>
<path d="M532.60 304.06H536.50" stroke="#000" stroke-width="1.5"/>
<text transform="translate(530.90 307.30) scale(1 1.1)" text-anchor="end" font-size="6.2">55</text>
<path d="M532.60 288.20H536.50" stroke="#000" stroke-width="1.5"/>
<text transform="translate(530.90 291.44) scale(1 1.1)" text-anchor="end" font-size="6.2">60</text>
<path d="M554.57 383.35V387.25" stroke="#000" stroke-width="1.5"/>
<text x="554.57" y="394.90" text-anchor="middle" font-size="6.7">2011-12</text>
<path d="M591.00 383.35V387.25" stroke="#000" stroke-width="1.5"/>
<text x="591.00" y="394.90" text-anchor="middle" font-size="6.7">2013-14</text>
<path d="M627.43 383.35V387.25" stroke="#000" stroke-width="1.5"/>
<text x="627.43" y="394.90" text-anchor="middle" font-size="6.7">2015-16</text>
<path d="M663.86 383.35V387.25" stroke="#000" stroke-width="1.5"/>
<text x="663.86" y="394.90" text-anchor="middle" font-size="6.7">2017-20</text>
<text x="609.40" y="277.00" text-anchor="middle" font-size="9.15">Diet Score</text>
<text x="609.20" y="407.10" text-anchor="middle" font-size="7.86">NHANES Cycles</text>
<text transform="translate(519.20 336.20) rotate(-90)" text-anchor="middle" font-size="7.6">Score</text>
<path d="M554.57 307.60V341.22M552.57 307.60H556.57M552.57 341.22H556.57" stroke="#e23a48" stroke-width="0.7" fill="none" opacity="0.9"/>
<path d="M591.00 327.26V344.39M589.00 327.26H593.00M589.00 344.39H593.00" stroke="#e23a48" stroke-width="0.7" fill="none" opacity="0.9"/>
<path d="M627.43 305.06V332.65M625.43 305.06H629.43M625.43 332.65H629.43" stroke="#e23a48" stroke-width="0.7" fill="none" opacity="0.9"/>
<path d="M663.86 353.27V375.47M661.86 353.27H665.86M661.86 375.47H665.86" stroke="#e23a48" stroke-width="0.7" fill="none" opacity="0.9"/>
<path d="M554.57 323.77V335.82M552.57 323.77H556.57M552.57 335.82H556.57" stroke="#0a0aff" stroke-width="0.6" fill="none" opacity="0.9"/>
<path d="M591.00 328.85V335.82M589.00 328.85H593.00M589.00 335.82H593.00" stroke="#0a0aff" stroke-width="0.6" fill="none" opacity="0.9"/>
<path d="M627.43 332.97V338.05M625.43 332.97H629.43M625.43 338.05H629.43" stroke="#0a0aff" stroke-width="0.6" fill="none" opacity="0.9"/>
<path d="M663.86 349.46V357.08M661.86 349.46H665.86M661.86 357.08H665.86" stroke="#0a0aff" stroke-width="0.6" fill="none" opacity="0.9"/>
<path d="M554.57 324.41 L591.00 335.82 L627.43 319.02 L663.86 364.37" stroke="#f02020" stroke-width="0.95" fill="none"/>
<path d="M554.57 322.11L556.62 325.91L552.52 325.91Z" fill="#f02020"/>
<path d="M591.00 333.52L593.05 337.32L588.95 337.32Z" fill="#f02020"/>
<path d="M627.43 316.72L629.48 320.52L625.38 320.52Z" fill="#f02020"/>
<path d="M663.86 362.07L665.91 365.87L661.81 365.87Z" fill="#f02020"/>
<path d="M554.57 329.80 L591.00 332.34 L627.43 335.51 L663.86 353.27" stroke="#0a0aff" stroke-width="0.6" fill="none"/>
<circle cx="554.57" cy="329.80" r="2.00" fill="#0a0aff"/>
<circle cx="591.00" cy="332.34" r="2.00" fill="#0a0aff"/>
<circle cx="627.43" cy="335.51" r="2.00" fill="#0a0aff"/>
<circle cx="663.86" cy="353.27" r="2.00" fill="#0a0aff"/>

<path d="M421.9 24.3H431.6" stroke="#0a0aff" stroke-width="0.8"/>
<circle cx="426.7" cy="24.3" r="1.85" fill="#0a0aff"/>
<text x="437.1" y="27.0" font-size="7.4" style="font-weight:normal">Non-pregnant</text>
<path d="M421.9 36.2H431.6" stroke="#e23a48" stroke-width="0.8" opacity="0.6"/>
<path d="M426.7 34.1L428.6 37.4L424.8 37.4Z" fill="#f02020"/>
<text x="437.1" y="39.0" font-size="7.4" style="font-weight:normal">Pregnant</text>

</svg>
</body></html>
